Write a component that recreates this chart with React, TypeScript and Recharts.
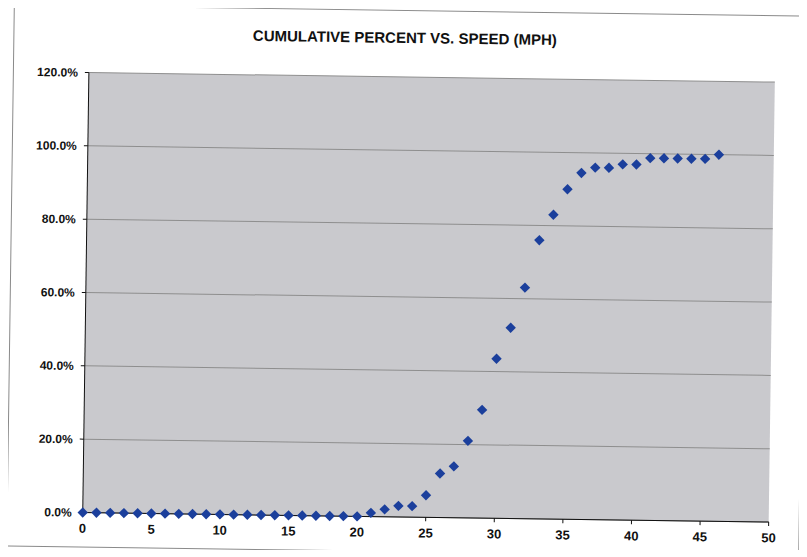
import { ScatterChart, Scatter, XAxis, YAxis, CartesianGrid } from 'recharts';

// speed (mph) and cumulative percent of vehicles at or below it
const speedMph = [
    0, 1, 2, 3, 4, 5, 6, 7, 8, 9, 10, 11, 12, 13, 14, 15, 16, 17, 18, 19, 20,
    21, 22, 23, 24, 25, 26, 27, 28, 29, 30, 31, 32, 33, 34, 35, 36, 37, 38, 39,
    40, 41, 42, 43, 44, 45, 46,
];
const cumulativePct = [
    0, 0, 0, 0, 0, 0, 0, 0, 0, 0, 0, 0, 0, 0, 0, 0, 0, 0, 0, 0, 0,
    1, 2, 3, 3, 6, 12, 14, 21, 29.5, 43.5, 52, 63, 76, 83, 90, 94.5, 96, 96, 97,
    97, 98.8, 98.8, 98.8, 98.8, 98.8, 100,
];
const xTicks = [0, 5, 10, 15, 20, 25, 30, 35, 40, 45, 50];
const yTicks = [0, 20, 40, 60, 80, 100, 120];

const points = speedMph.map((speed, i) => ({ speed, pct: cumulativePct[i] }));

const MARKER = '#1b3f9c';

function Diamond(props: any) {
    const { cx, cy } = props;
    if (cx == null || cy == null) return null;
    const r = 5.2;
    return (
        <path
            d={`M${cx} ${cy - r}L${cx + r} ${cy}L${cx} ${cy + r}L${cx - r} ${cy}Z`}
            fill={MARKER}
        />
    );
}

export default function App() {
    return (
        <div
            style={{
                position: 'relative',
                left: 2,
                top: 2,
                width: 791,
                height: 540,
                border: '1px solid #8a8a8a',
                background: '#fff',
                transform: 'rotate(0.8deg)',
                fontFamily: '"Liberation Sans", Arial, sans-serif',
            }}
        >
            <div
                style={{
                    position: 'absolute',
                    top: 18,
                    left: 0,
                    width: 781,
                    paddingRight: 10,
                    textAlign: 'center',
                    fontWeight: 'bold',
                    fontSize: 15,
                    color: '#111',
                }}
            >
                CUMULATIVE PERCENT VS. SPEED (MPH)
            </div>
            <ScatterChart
                width={791}
                height={540}
                margin={{ top: 66, right: 30, bottom: 9, left: 0 }}
            >
                <CartesianGrid vertical={false} stroke="#8e8e8e" fill="#c9c9cd" />
                <XAxis
                    type="number"
                    dataKey="speed"
                    domain={[0, 50]}
                    ticks={xTicks}
                    height={25}
                    axisLine={{ stroke: '#111' }}
                    tickLine={{ stroke: '#111' }}
                    tickSize={4}
                    tickMargin={7}
                    tick={{ fill: '#111', fontSize: 13, fontWeight: 'bold' }}
                />
                <YAxis
                    type="number"
                    dataKey="pct"
                    domain={[0, 120]}
                    ticks={yTicks}
                    width={75}
                    axisLine={{ stroke: '#111' }}
                    tickLine={{ stroke: '#111' }}
                    tickSize={4}
                    tickMargin={7}
                    tickFormatter={(v: number) => `${v.toFixed(1)}%`}
                    tick={{ fill: '#111', fontSize: 12, fontWeight: 'bold' }}
                />
                <Scatter data={points} shape={Diamond} isAnimationActive={false} />
            </ScatterChart>
        </div>
    );
}
